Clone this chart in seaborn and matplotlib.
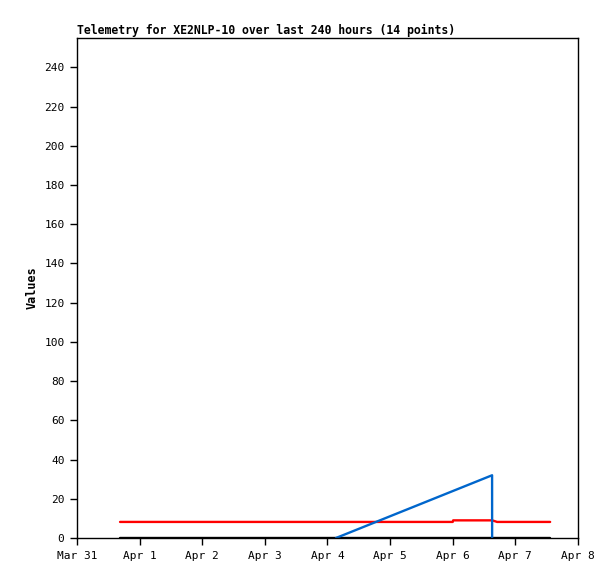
import matplotlib
matplotlib.use("Agg")
import matplotlib.pyplot as plt
import matplotlib.dates as mdates
import numpy as np
import pandas as pd
import seaborn as sns

# telemetry channels
red_times = ["2024-03-31 16:30", "2024-04-06 00:00", "2024-04-06 00:10",
             "2024-04-06 15:10", "2024-04-06 17:00", "2024-04-07 13:20"]
red_values = [8.2, 8.2, 9.0, 9.0, 8.2, 8.2]

blue_times = ["2024-04-04 03:15", "2024-04-06 15:05", "2024-04-06 15:06"]
blue_values = [0, 32, 0]

black_times = ["2024-03-31 16:30", "2024-04-07 13:20"]
black_values = [0, 0]

x_ticks = pd.date_range("2024-03-31", "2024-04-08", freq="D")
y_ticks = list(range(0, 241, 20))

sns.set_style("white")
plt.rcParams["font.family"] = ["DejaVu Sans Mono", "DejaVu Sans"]
plt.rcParams["text.color"] = "black"
plt.rcParams["axes.labelcolor"] = "black"

fig = plt.figure(figsize=(6.15, 5.79), dpi=100)
ax = fig.add_axes([0.1252, 0.0708, 0.8146, 0.8636])

series = [
    (black_times, black_values, "black"),
    (red_times, red_values, "#ff0000"),
    (blue_times, blue_values, "#0066cc"),
]
for times, values, color in series:
    df = pd.DataFrame({"t": pd.to_datetime(times), "v": values})
    sns.lineplot(data=df, x="t", y="v", ax=ax, color=color, linewidth=1.7,
                 estimator=None, sort=False)

ax.set_xlim(x_ticks[0], x_ticks[-1])
ax.set_ylim(0, 255)
ax.set_xticks(x_ticks)
ax.xaxis.set_major_formatter(mdates.DateFormatter("%b %-d"))
ax.set_yticks(y_ticks)

ax.tick_params(axis="both", direction="out", length=5, width=1, labelsize=8,
               colors="black", bottom=True, left=True, pad=4)
for s in ax.spines.values():
    s.set_visible(True)
    s.set_color("black")
    s.set_linewidth(1)

ax.set_xlabel("")
ax.set_ylabel("Values", fontsize=8.5, fontweight="bold", color="black")
ax.set_title("Telemetry for XE2NLP-10 over last 240 hours (14 points)",
             fontsize=8.3, fontweight="bold", loc="left", pad=3, color="black")

fig.savefig("out.png", dpi=100)
